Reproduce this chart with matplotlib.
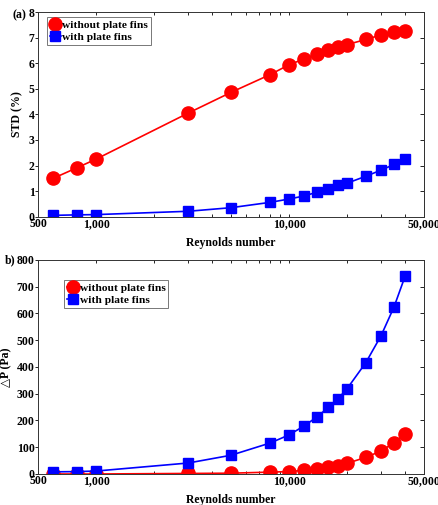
import matplotlib
matplotlib.use("Agg")
import matplotlib.pyplot as plt
from matplotlib.ticker import FixedLocator, NullFormatter

re_vals = [600, 800, 1000, 3000, 5000, 8000, 10000, 12000, 14000, 16000,
           18000, 20000, 25000, 30000, 35000, 40000]
std_without = [1.50, 1.92, 2.25, 4.05, 4.86, 5.56, 5.94, 6.17, 6.37, 6.50,
               6.63, 6.73, 6.93, 7.11, 7.22, 7.28]
std_with = [0.05, 0.07, 0.08, 0.21, 0.35, 0.56, 0.69, 0.81, 0.96, 1.07,
            1.22, 1.31, 1.58, 1.82, 2.04, 2.24]
dp_without = [0, 0, 0, 2, 3, 7, 9, 14, 20, 26, 31, 40, 62, 86, 117, 151]
dp_with = [8, 9, 11, 41, 70, 116, 146, 180, 214, 249, 282, 319, 416, 517, 624, 740]

x_major = [500, 1000, 10000, 50000]
x_major_labels = ["500", "1,000", "10,000", "50,000"]
x_minor = [2000, 3000, 4000, 5000, 6000, 7000, 8000, 9000, 20000, 30000, 40000]

label_without = "without plate fins"
label_with = "with plate fins"

plt.rcParams['font.family'] = ['Liberation Serif', 'DejaVu Serif']
plt.rcParams['font.weight'] = 'bold'
plt.rcParams['font.size'] = 8

fig = plt.figure(figsize=(4.38, 5.05), dpi=100)
ax1 = fig.add_axes([0.0868, 0.571, 0.881, 0.405])
ax2 = fig.add_axes([0.0868, 0.0614, 0.881, 0.424])

RED = (1, 0, 0)
BLUE = (0, 0, 1)


def style(ax, ylim, yticks):
    ax.set_xscale('log')
    ax.set_xlim(500, 50000)
    ax.set_ylim(*ylim)
    ax.xaxis.set_major_locator(FixedLocator(x_major))
    ax.set_xticklabels(x_major_labels, fontweight='bold')
    ax.xaxis.set_minor_locator(FixedLocator(x_minor))
    ax.xaxis.set_minor_formatter(NullFormatter())
    ax.set_yticks(yticks)
    ax.set_yticklabels([str(v) for v in yticks], fontweight='bold')
    ax.tick_params(axis='x', which='both', direction='in', top=True, bottom=True,
                   length=2.5, width=0.6, pad=1, labelsize=8.5)
    ax.tick_params(axis='y', which='both', direction='out', left=True, right=False,
                   length=2.0, width=0.6, pad=0.5, labelsize=8.5)
    sec = ax.secondary_yaxis('right')
    sec.set_yticks(yticks)
    sec.tick_params(direction='in', length=3, width=0.6, labelright=False)
    for s in ax.spines.values():
        s.set_linewidth(0.7)
        s.set_color('#333333')
    sec.spines['right'].set_linewidth(0.7)
    sec.spines['right'].set_color('#333333')
    ax.set_xlabel("Reynolds number", fontweight='bold', fontsize=8.5, labelpad=5)


ax1.plot(re_vals, std_without, '-o', color=RED, lw=1.2, ms=9.5, label=label_without)
ax1.plot(re_vals, std_with, '-s', color=BLUE, lw=1.2, ms=6.5, label=label_with)
style(ax1, (0, 8), [0, 1, 2, 3, 4, 5, 6, 7, 8])
ax1.set_ylabel("STD (%)", fontweight='bold', fontsize=8.5, labelpad=4)
leg1 = ax1.legend(loc='upper left', bbox_to_anchor=(0.02, 0.98), frameon=True,
                  fancybox=False, edgecolor='#555555', handlelength=1.0,
                  handletextpad=0.1, borderpad=0.25, labelspacing=0.15,
                  borderaxespad=0.1, prop={'weight': 'bold', 'size': 8.2})
leg1.get_frame().set_linewidth(0.7)
fig.text(26 / 438, 1 - 15 / 505, "(a)", fontweight='bold', fontsize=8.5,
         va='center', ha='right')

ax2.plot(re_vals, dp_without, '-o', color=RED, lw=1.2, ms=9.5, label=label_without)
ax2.plot(re_vals, dp_with, '-s', color=BLUE, lw=1.2, ms=6.5, label=label_with)
style(ax2, (0, 800), [0, 100, 200, 300, 400, 500, 600, 700, 800])
ax2.set_ylabel("△P (Pa)", fontweight='bold', fontsize=8.5, labelpad=3)
leg2 = ax2.legend(loc='upper left', bbox_to_anchor=(0.065, 0.91), frameon=True,
                  fancybox=False, edgecolor='#555555', handlelength=1.0,
                  handletextpad=0.1, borderpad=0.25, labelspacing=0.15,
                  borderaxespad=0.1, prop={'weight': 'bold', 'size': 8.2})
leg2.get_frame().set_linewidth(0.7)
fig.text(15 / 438, 1 - 260 / 505, "b)", fontweight='bold', fontsize=8.5,
         va='center', ha='right')

fig.savefig("out.png", dpi=100)
